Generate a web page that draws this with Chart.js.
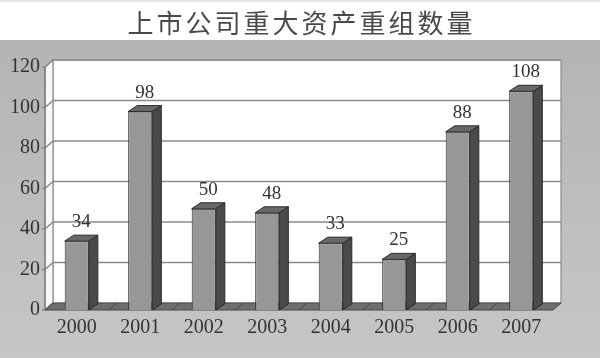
<!DOCTYPE html>
<html>
<head>
<meta charset="utf-8">
<script src="https://cdn.jsdelivr.net/npm/chart.js@4"></script>
<style>
  html, body { margin: 0; padding: 0; background: #fff; }
  canvas { display: block; }
</style>
</head>
<body>
<canvas id="c" width="600" height="358"></canvas>
<script>
const chartTitle = '上市公司重大资产重组数量';
const years = ['2000', '2001', '2002', '2003', '2004', '2005', '2006', '2007'];
const deals = [34, 98, 50, 48, 33, 25, 88, 108];
const yTickValues = [0, 20, 40, 60, 80, 100, 120];

// depth offsets for the box walls and for the bars
const WALL = { dx: 8, dy: -7 };
const BAR = { dx: 9, dy: -6 };
const SERIF = '"Liberation Serif", "DejaVu Serif", serif';

function poly(ctx, pts, fill, stroke, lw) {
  ctx.beginPath();
  ctx.moveTo(pts[0][0], pts[0][1]);
  for (let i = 1; i < pts.length; i++) ctx.lineTo(pts[i][0], pts[i][1]);
  ctx.closePath();
  if (fill) { ctx.fillStyle = fill; ctx.fill(); }
  if (stroke) { ctx.strokeStyle = stroke; ctx.lineWidth = lw || 1; ctx.stroke(); }
}

const scene3d = {
  id: 'scene3d',
  beforeDraw(chart) {
    const { ctx, chartArea: a, scales: { y } } = chart;
    const W = chart.width, H = chart.height;
    ctx.save();
    // title band and grey backdrop
    ctx.fillStyle = '#ffffff';
    ctx.fillRect(0, 0, W, 40);
    ctx.fillStyle = '#e4e4e4';
    ctx.fillRect(0, 0, W, 2);
    const g = ctx.createLinearGradient(0, 40, 0, H);
    g.addColorStop(0, '#b4b4b4');
    g.addColorStop(1, '#c6c6c6');
    ctx.fillStyle = g;
    ctx.fillRect(0, 40, W, H - 40);

    // title
    ctx.fillStyle = '#4a4a4a';
    ctx.font = '26px "Noto Sans CJK SC", sans-serif';
    ctx.textAlign = 'center';
    ctx.textBaseline = 'middle';
    if ('letterSpacing' in ctx) ctx.letterSpacing = '3px';
    ctx.fillText(chartTitle, W / 2 + 1.5, 23);
    if ('letterSpacing' in ctx) ctx.letterSpacing = '0px';

    const L = a.left, R = a.right, T = a.top, B = a.bottom;
    const dx = WALL.dx, dy = WALL.dy;
    // back wall
    poly(ctx, [[L + dx, T + dy], [R + dx, T + dy], [R + dx, B + dy], [L + dx, B + dy]], '#ffffff', '#8c8c8c', 1.2);
    // left wall
    poly(ctx, [[L, T], [L + dx, T + dy], [L + dx, B + dy], [L, B]], '#f7f7f7', '#8c8c8c', 1.2);

    // grid lines across the left wall and the back wall
    ctx.strokeStyle = '#8a8a8a';
    ctx.lineWidth = 1.4;
    yTickValues.forEach(v => {
      const yy = y.getPixelForValue(v);
      ctx.beginPath();
      ctx.moveTo(L - 3, yy);
      ctx.lineTo(L, yy);
      ctx.lineTo(L + dx, yy + dy);
      if (v > 0) ctx.lineTo(R + dx, yy + dy);
      ctx.stroke();
    });
    // front axis line
    ctx.beginPath();
    ctx.moveTo(L, T);
    ctx.lineTo(L, B);
    ctx.strokeStyle = '#7a7a7a';
    ctx.lineWidth = 1.2;
    ctx.stroke();
    ctx.restore();
  },
  beforeDatasetsDraw(chart) {
    const { ctx, chartArea: a } = chart;
    const n = years.length;
    const cw = (a.right - a.left) / n;
    const B = a.bottom, dx = WALL.dx, dy = WALL.dy;
    ctx.save();
    // floor, one cell per category
    for (let i = 0; i < n; i++) {
      const x0 = a.left + i * cw, x1 = x0 + cw;
      poly(ctx, [[x0, B], [x0 + dx, B + dy], [x1 + dx, B + dy], [x1, B]], '#6e6e6e', '#4a4a4a', 1);
    }
    ctx.restore();
  },
  afterDatasetsDraw(chart) {
    const { ctx } = chart;
    const meta = chart.getDatasetMeta(0);
    ctx.save();
    meta.data.forEach((bar, i) => {
      const p = bar.getProps(['x', 'y', 'base', 'width'], true);
      const l = p.x - p.width / 2, r = p.x + p.width / 2;
      // right side face
      poly(ctx, [[r, p.y], [r + BAR.dx, p.y + BAR.dy], [r + BAR.dx, p.base + BAR.dy], [r, p.base]], '#4a4a4a', '#2a2a2a', 1);
      // top face
      poly(ctx, [[l, p.y], [l + BAR.dx, p.y + BAR.dy], [r + BAR.dx, p.y + BAR.dy], [r, p.y]], '#686868', '#2a2a2a', 1);
      // value label
      ctx.fillStyle = '#333';
      ctx.font = '19px ' + SERIF;
      ctx.textAlign = 'center';
      ctx.textBaseline = 'alphabetic';
      ctx.fillText(String(deals[i]), p.x + BAR.dx / 2, p.y + BAR.dy - 8);
    });
    ctx.restore();
  }
};

new Chart(document.getElementById('c'), {
  type: 'bar',
  data: {
    labels: years,
    datasets: [{
      data: deals,
      backgroundColor: '#979797',
      borderColor: '#2e2e2e',
      borderWidth: 1,
      barPercentage: 0.38,
      categoryPercentage: 1
    }]
  },
  options: {
    responsive: false,
    animation: false,
    devicePixelRatio: 1,
    layout: { padding: { top: 67, right: 47, bottom: 0, left: 0 } },
    plugins: {
      legend: { display: false },
      title: { display: false },
      tooltip: { enabled: false }
    },
    scales: {
      x: {
        type: 'category',
        offset: true,
        grid: { display: false, drawTicks: false },
        border: { display: false },
        ticks: { color: '#333', font: { family: SERIF, size: 20 }, padding: 6, maxRotation: 0 },
        afterFit(s) { s.height = 48; }
      },
      y: {
        min: 0,
        max: 120,
        grid: { display: false, drawTicks: false },
        border: { display: false },
        ticks: { color: '#333', font: { family: SERIF, size: 20 }, padding: 5 },
        afterBuildTicks(s) { s.ticks = yTickValues.map(v => ({ value: v })); },
        afterFit(s) { s.width = 45; }
      }
    }
  },
  plugins: [scene3d]
});
</script>
</body>
</html>
